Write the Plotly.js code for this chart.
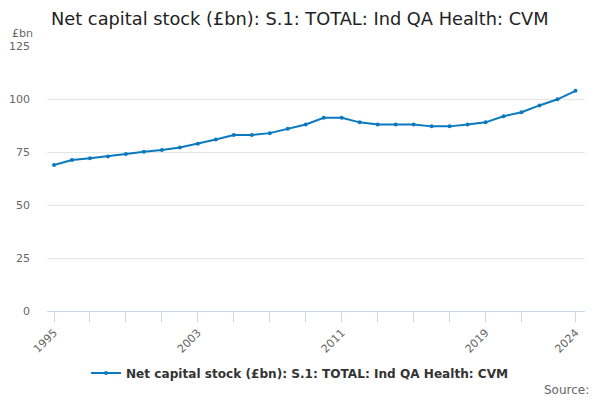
<!DOCTYPE html>
<html>
<head>
<meta charset="utf-8">
<script src="https://cdn.plot.ly/plotly-3.0.1.min.js"></script>
<style>html,body{margin:0;padding:0;background:#fff;}#chart{width:600px;height:400px;}</style>
</head>
<body>
<div id="chart"></div>
<script>
const years = [1995,1996,1997,1998,1999,2000,2001,2002,2003,2004,2005,2006,2007,2008,2009,2010,2011,2012,2013,2014,2015,2016,2017,2018,2019,2020,2021,2022,2023,2024];
const values = [69.0,71.4,72.2,73.1,74.2,75.3,76.1,77.3,79.1,81.1,83.2,83.2,84.1,86.2,88.2,91.4,91.4,89.2,88.2,88.2,88.2,87.3,87.3,88.2,89.2,92.1,94.0,97.2,100.1,104.1];
const seriesName = "Net capital stock (£bn): S.1: TOTAL: Ind QA Health: CVM";
const chartTitle = "Net capital stock (£bn): S.1: TOTAL: Ind QA Health: CVM";
const xTickVals = [1995,1997,1999,2001,2003,2005,2007,2009,2011,2013,2015,2017,2019,2021,2024];
const xTickText = ["1995","","","","2003","","","","2011","","","","2019","","2024"];
const yTickVals = [0,25,50,75,100,125];
const yUnit = "£bn";
const sourceText = "Source:";

const font = "DejaVu Sans, sans-serif";
const trace = {
  x: years, y: values, name: seriesName, type: "scatter", mode: "lines+markers",
  line: {color: "#0a79bf", width: 2},
  marker: {color: "#0a79bf", size: 4},
  showlegend: true
};
const layout = {
  width: 600, height: 400,
  margin: {l: 47, r: 15, t: 46, b: 89},
  paper_bgcolor: "#fff", plot_bgcolor: "#fff",
  font: {family: font, color: "#666"},
  title: {text: chartTitle, x: 0, xref: "paper", xanchor: "left", y: 0.953, yref: "container", yanchor: "middle",
          font: {family: font, size: 17.8, color: "#222"}, pad: {l: 4}},
  xaxis: {
    range: [1994.61, 2024.53], tickmode: "array", tickvals: xTickVals, ticktext: xTickText,
    tickangle: -45, ticks: "outside", ticklen: 10, tickcolor: "#ccd6eb", tickwidth: 1,
    showline: true, linecolor: "#ccd6eb", linewidth: 1, showgrid: false, zeroline: false,
    tickfont: {family: font, size: 11, color: "#666"}
  },
  yaxis: {
    range: [0, 125.3], tickmode: "array", tickvals: yTickVals, showgrid: true, gridcolor: "#e6e6e6",
    zeroline: false, showline: false, ticks: "", ticklabelstandoff: 16,
    tickfont: {family: font, size: 11, color: "#666"}
  },
  showlegend: true,
  legend: {orientation: "h", x: 0.5, xanchor: "center", xref: "container", y: 1 - 373/400, yref: "container",
           yanchor: "middle", font: {family: font, size: 12.1, color: "#333", weight: "bold"}, itemwidth: 30},
  annotations: [
    {text: yUnit, xref: "paper", yref: "paper", x: 0, y: 1, xanchor: "right", yanchor: "bottom",
     xshift: -12, yshift: 4, showarrow: false, font: {family: font, size: 11, color: "#666"}},
    {text: sourceText, xref: "paper", yref: "paper", x: 1, y: 0, xanchor: "right", yanchor: "middle",
     xshift: 6, yshift: -79, showarrow: false, font: {family: font, size: 12, color: "#666"}}
  ]
};
Plotly.newPlot("chart", [trace], layout, {displayModeBar: false, staticPlot: true});
</script>
</body>
</html>
